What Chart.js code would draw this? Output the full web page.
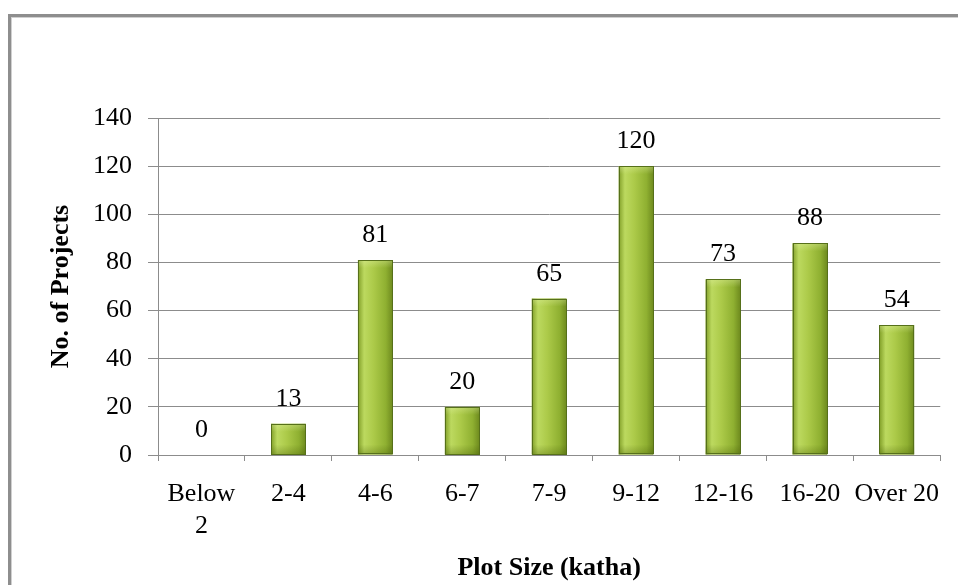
<!DOCTYPE html>
<html>
<head>
<meta charset="utf-8">
<script src="https://cdn.jsdelivr.net/npm/chart.js@4/dist/chart.umd.min.js"></script>
<style>
  html, body { margin: 0; padding: 0; background: #ffffff; }
  #wrap { position: relative; width: 958px; height: 585px; overflow: hidden; background: #ffffff; }
  #frame {
    position: absolute; left: 8px; top: 14px; width: 1000px; height: 1000px;
    border-top: 3px solid #8e8e8e; border-left: 3px solid #8e8e8e;
    box-shadow: inset 1px 1px 0 #d0d0d0;
  }
  canvas { position: absolute; left: 0; top: 0; }
</style>
</head>
<body>
<div id="wrap">
  <div id="frame"></div>
  <canvas id="c" width="958" height="585"></canvas>
</div>
<script>
// Number of projects by plot size (katha)
const categories = ["Below 2", "2-4", "4-6", "6-7", "7-9", "9-12", "12-16", "16-20", "Over 20"];
const tickLabels = [["Below", "2"], "2-4", "4-6", "6-7", "7-9", "9-12", "12-16", "16-20", "Over 20"];
const projects = [0, 13, 81, 20, 65, 120, 73, 88, 54];
const yTicks = [0, 20, 40, 60, 80, 100, 120, 140];

const SERIF = "'Liberation Serif', 'Times New Roman', serif";

// Repaint each bar with a shaded, cylinder-like green fill
const barShading = {
  id: 'barShading',
  afterDatasetsDraw(chart) {
    const ctx = chart.ctx;
    ctx.save();
    chart.getDatasetMeta(0).data.forEach(bar => {
      const h = bar.base - bar.y;
      if (h <= 0.5) return;
      const half = bar.width / 2;
      const left = bar.x - half;
      const g = ctx.createLinearGradient(left, 0, left + bar.width, 0);
      g.addColorStop(0, '#819f28');
      g.addColorStop(0.18, '#bcd95f');
      g.addColorStop(0.45, '#acca49');
      g.addColorStop(0.8, '#8fb031');
      g.addColorStop(1, '#6e8a1e');
      ctx.fillStyle = g;
      ctx.fillRect(left, bar.y, bar.width, h);

      const v = ctx.createLinearGradient(0, bar.y, 0, bar.base);
      v.addColorStop(0, 'rgba(235,248,180,0.35)');
      v.addColorStop(Math.min(0.5, 8 / h), 'rgba(235,248,180,0)');
      v.addColorStop(Math.max(0.5, 1 - 10 / h), 'rgba(60,80,0,0)');
      v.addColorStop(1, 'rgba(60,80,0,0.3)');
      ctx.fillStyle = v;
      ctx.fillRect(left, bar.y, bar.width, h);

      ctx.strokeStyle = '#56701a';
      ctx.lineWidth = 1;
      ctx.strokeRect(Math.round(left) + 0.5, Math.round(bar.y) + 0.5,
                     Math.round(bar.width) - 1, Math.round(h) - 1);
    });
    ctx.restore();
  }
};

// Value printed above each bar
const valueLabels = {
  id: 'valueLabels',
  afterDatasetsDraw(chart) {
    const ctx = chart.ctx;
    const values = chart.data.datasets[0].data;
    ctx.save();
    ctx.font = '26px ' + SERIF;
    ctx.fillStyle = '#000000';
    ctx.textAlign = 'center';
    ctx.textBaseline = 'alphabetic';
    chart.getDatasetMeta(0).data.forEach((bar, i) => {
      ctx.fillText(String(values[i]), bar.x, bar.y - 18);
    });
    ctx.restore();
  }
};

new Chart(document.getElementById('c'), {
  type: 'bar',
  data: {
    labels: categories,
    datasets: [{
      data: projects,
      backgroundColor: '#9bbb3b',
      borderColor: '#56701a',
      borderWidth: 1,
      barPercentage: 0.4,
      categoryPercentage: 1.0
    }]
  },
  options: {
    responsive: false,
    animation: false,
    devicePixelRatio: 1,
    layout: { padding: { top: 118, right: 17, left: 0, bottom: 0 } },
    plugins: {
      legend: { display: false },
      tooltip: { enabled: false }
    },
    scales: {
      x: {
        afterFit(scale) { scale.height = 130; },
        grid: {
          offset: true,
          drawOnChartArea: false,
          drawTicks: true,
          tickLength: 6,
          color: '#8c8c8c'
        },
        border: { display: true, color: '#8c8c8c', width: 1 },
        ticks: {
          color: '#000000',
          padding: 18,
          maxRotation: 0,
          autoSkip: false,
          font: { family: SERIF, size: 26, lineHeight: 1.2 },
          callback: (v, i) => tickLabels[i]
        },
        title: {
          display: true,
          text: 'Plot Size (katha)',
          color: '#000000',
          font: { family: SERIF, size: 26, weight: 'bold', lineHeight: 1.2 },
          padding: { top: 0, bottom: 1 }
        }
      },
      y: {
        min: 0,
        max: 140,
        afterFit(scale) { scale.width = 158; },
        afterBuildTicks(scale) { scale.ticks = yTicks.map(v => ({ value: v })); },
        grid: {
          color: '#8c8c8c',
          lineWidth: 1,
          drawTicks: true,
          tickLength: 10
        },
        border: { display: true, color: '#8c8c8c', width: 1 },
        ticks: {
          color: '#000000',
          padding: 16,
          font: { family: SERIF, size: 26 }
        },
        title: {
          display: true,
          text: 'No. of Projects',
          color: '#000000',
          font: { family: SERIF, size: 26, weight: 'bold', lineHeight: 1.2 },
          padding: { top: 46, bottom: 0 }
        }
      }
    }
  },
  plugins: [barShading, valueLabels]
});
</script>
</body>
</html>
